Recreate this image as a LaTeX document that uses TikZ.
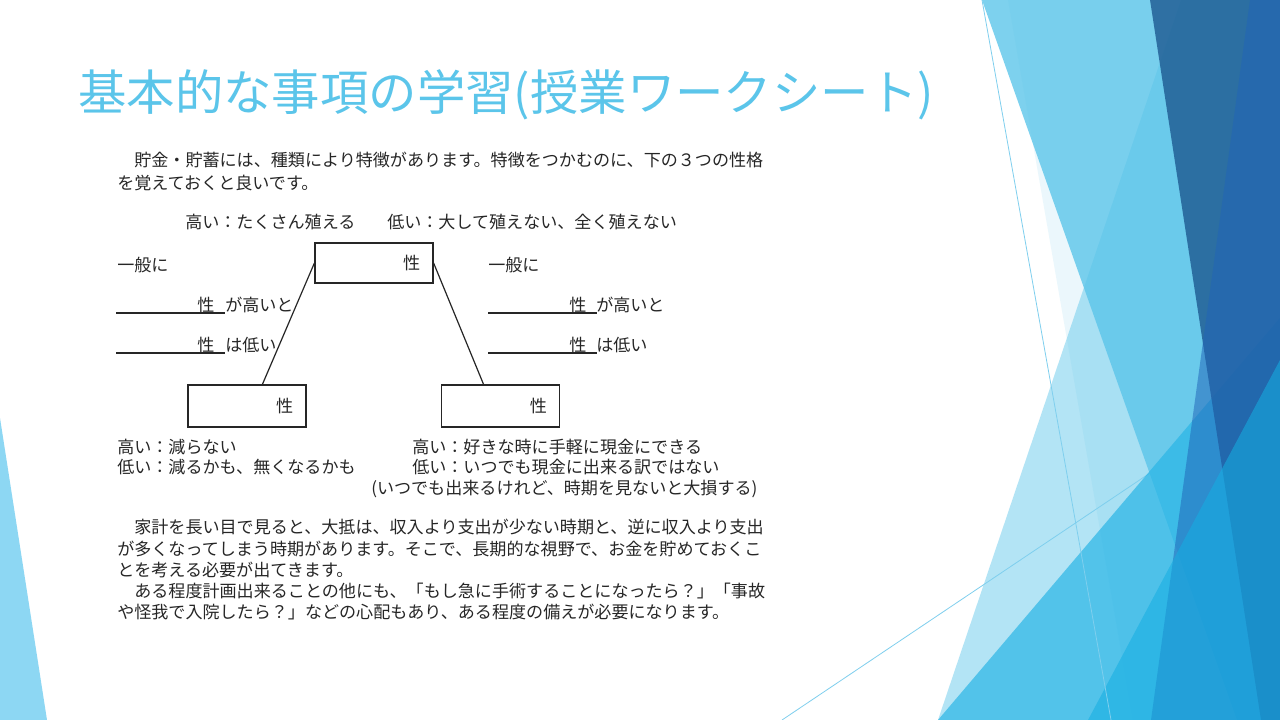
\documentclass[tikz,border=0pt]{standalone}
\usepackage{fontspec}
\newfontfamily\jp{Noto Sans CJK JP}
\usetikzlibrary{calc}
\definecolor{facet}{HTML}{5BC5EA}
\definecolor{facetB}{HTML}{29B5E6}
\definecolor{darkA}{HTML}{1F5C93}
\definecolor{darkB}{HTML}{2164B8}
\definecolor{brightC}{HTML}{15AEE2}
\definecolor{thinline}{HTML}{7FCFEE}
\definecolor{leftblue}{HTML}{8DD7F3}
\definecolor{titleblue}{HTML}{5BC5EA}
\definecolor{ink}{HTML}{262626}
\begin{document}
\begin{tikzpicture}[x=0.75pt,y=-0.75pt,
  txt/.style={anchor=west, inner sep=0pt, font=\jp\fontsize{12.8pt}{15pt}\selectfont, text=ink},
  ctxt/.style={anchor=center, inner sep=0pt, font=\jp\fontsize{12.8pt}{15pt}\selectfont, text=ink},
  box/.style={draw=ink, line width=0.9pt, inner sep=0pt},
  uline/.style={draw=ink, line width=1.5pt},
  conn/.style={draw=ink, line width=0.9pt}]
\useasboundingbox (0,0) rectangle (1280,720);
\fill[white] (0,0) rectangle (1280,720);

% background facets
\fill[facet, fill opacity=0.46] (1181,0) -- (1280,0) -- (1280,720) -- (938,720) -- cycle;
\fill[facet, fill opacity=0.79] (982,0) -- (1280,0) -- (1280,720) -- (1237,720) -- cycle;
\fill[facet, fill opacity=0.12] (1008,0) -- (1280,0) -- (1280,720) -- (1133,720) -- cycle;
\draw[thinline, line width=0.6pt] (782,720) -- (1150,473);
\fill[facetB, fill opacity=0.7] (938,720) -- (1280,318) -- (1280,720) -- cycle;
\fill[darkA, fill opacity=0.82] (1150,0) -- (1280,0) -- (1280,720) -- (1261,720) -- cycle;
\fill[darkB, fill opacity=0.52] (1250,0) -- (1280,0) -- (1280,720) -- (1151,720) -- cycle;
\fill[brightC, fill opacity=0.56] (1280,360) -- (1280,720) -- (1088,720) -- cycle;
\draw[thinline, line width=0.6pt] (982,0) -- (1111,720);
\fill[leftblue] (0,418) -- (47,720) -- (0,720) -- cycle;

% title
\node[anchor=west, inner sep=0pt, font=\jp\fontsize{36.3pt}{42pt}\selectfont, text=titleblue] (title) at (78,95) {基本的な事項の学習(授業ワークシート)};

% intro
\node[txt] (i1) at (117,160) {　貯金・貯蓄には、種類により特徴があります。特徴をつかむのに、下の３つの性格};
\node[txt] (i2) at (117,183) {を覚えておくと良いです。};
\node[txt] (hi1) at (185,222) {高い：たくさん殖える};
\node[txt] (lo1) at (387,222) {低い：大して殖えない、全く殖えない};

% boxes
\node[box, minimum width=88.5pt, minimum height=30pt] (top) at (374,263) {};
\node[ctxt] (topl) at ($(top.east)+(-22,0)$) {性};
\node[box, minimum width=88.5pt, minimum height=31.5pt] (bl) at (247,406) {};
\node[ctxt] (bll) at ($(bl.east)+(-22,0)$) {性};
\node[box, minimum width=89pt, minimum height=31.5pt] (br) at (500.5,406) {};
\node[ctxt] (brl) at ($(br.east)+(-22,0)$) {性};
\coordinate (blc) at ($(bl.north west)+(75,0)$);
\coordinate (brc) at ($(br.north west)+(43,0)$);
\draw[conn] (top.west) -- (blc);
\draw[conn] (top.east) -- (brc);

% left column
\node[txt] (g1) at (117,265) {一般に};
\node[ctxt] (s1) at (206,305) {性};
\node[txt] (t1) at (225,305) {が高いと};
\node[ctxt] (s2) at (206,345) {性};
\node[txt] (t2) at (225,345) {は低い};
\draw[uline] (116,313) -- (225,313);
\draw[uline] (116,353) -- (225,353);

% right column
\node[txt] (g2) at (488,265) {一般に};
\node[ctxt] (s3) at (578,305) {性};
\node[txt] (t3) at (596,305) {が高いと};
\node[ctxt] (s4) at (578,345) {性};
\node[txt] (t4) at (596,345) {は低い};
\draw[uline] (488,313) -- (597,313);
\draw[uline] (488,353) -- (597,353);

% under boxes
\node[txt] (b1) at (117,447) {高い：減らない};
\node[txt] (b2) at (117,467) {低い：減るかも、無くなるかも};
\node[txt] (b3) at (412,447) {高い：好きな時に手軽に現金にできる};
\node[txt] (b4) at (412,467) {低い：いつでも現金に出来る訳ではない};
\node[txt] (b5) at (371,489) {(いつでも出来るけれど、時期を見ないと大損する)};

% paragraph
\node[txt] (p1) at (117,527) {　家計を長い目で見ると、大抵は、収入より支出が少ない時期と、逆に収入より支出};
\node[txt] (p2) at (117,549) {が多くなってしまう時期があります。そこで、長期的な視野で、お金を貯めておくこ};
\node[txt] (p3) at (117,570) {とを考える必要が出てきます。};
\node[txt] (p4) at (117,591) {　ある程度計画出来ることの他にも、「もし急に手術することになったら？」「事故};
\node[txt] (p5) at (117,612) {や怪我で入院したら？」などの心配もあり、ある程度の備えが必要になります。};
\end{tikzpicture}
\end{document}
